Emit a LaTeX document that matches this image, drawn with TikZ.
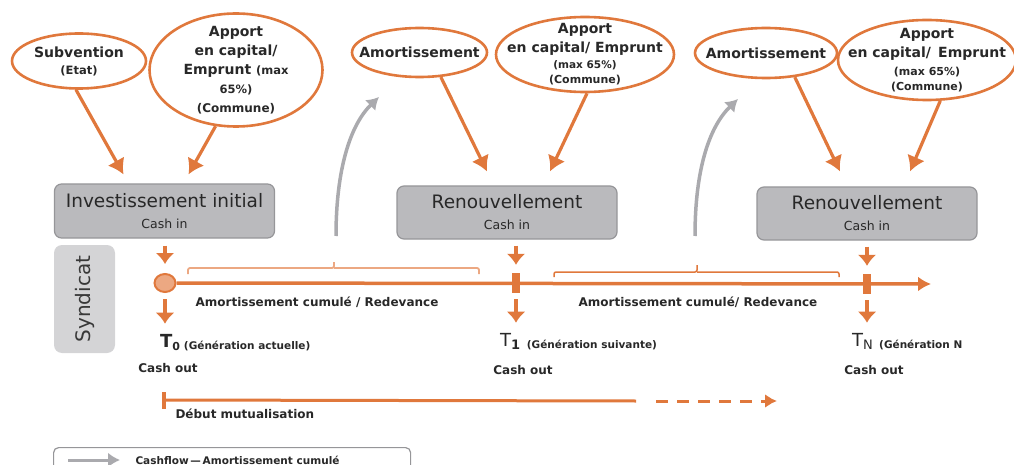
\documentclass[tikz,border=0pt]{standalone}
\usepackage{fontspec}
\setmainfont{DejaVu Sans}
\usetikzlibrary{arrows.meta,positioning,shapes.geometric,calc}
\definecolor{rustorange}{RGB}{224,120,60}
\definecolor{paleorange}{RGB}{236,168,130}
\definecolor{stagegray}{RGB}{186,186,189}
\definecolor{edgegray}{RGB}{150,150,153}
\definecolor{sidegray}{RGB}{212,212,214}
\definecolor{loopgray}{RGB}{170,170,174}
\definecolor{inkgray}{RGB}{40,40,40}

\begin{document}
\begin{tikzpicture}[x=1pt,y=-1pt,
    every node/.style={font=\fontsize{12}{14}\selectfont\bfseries,text=inkgray},
    bubble/.style={ellipse,draw=rustorange,line width=2.6pt,fill=white,align=center,inner xsep=-30pt,inner ysep=-14pt,font=\fontsize{14}{19}\selectfont\bfseries},
    stage/.style={draw=edgegray,line width=1.2pt,fill=stagegray,rounded corners=7pt,minimum width=220pt,minimum height=54pt,align=center,font=\fontsize{18.5}{21}\selectfont\mdseries},
    feed/.style={rustorange,line width=3.2pt,-{Latex[length=15pt,width=19pt]}},
    drop/.style={rustorange,line width=3.5pt,-{Latex[length=11pt,width=19pt]}},
    loopback/.style={loopgray,line width=3.5pt,-{Latex[length=12pt,width=15pt]}},
    brace/.style={line width=1.8pt,rounded corners=2pt},
    tick/.style={fill=rustorange,inner sep=0pt,minimum width=8pt,minimum height=20pt}]
  \useasboundingbox (0,0) rectangle (1014,465);

  % sources
  \node[bubble,minimum width=134pt,minimum height=55pt] (subv) at (79,61)
    {Subvention\\[-2pt]{\fontsize{11.5}{12}\selectfont (Etat)}};
  \node[bubble,minimum width=173pt,minimum height=113pt] (cap0) at (236,70)
    {Apport\\en capital/\\Emprunt {\fontsize{11.5}{12}\selectfont (max}\\{\fontsize{11.5}{12}\selectfont 65\%)}\\{\fontsize{12}{12}\selectfont (Commune)}};
  \node[bubble,minimum width=135pt,minimum height=49pt] (amort1) at (419.5,52.5) {Amortissement};
  \node[bubble,minimum width=178pt,minimum height=75pt] (cap1) at (585,54.5)
    {Apport\\en capital/ Emprunt\\[-3pt]{\fontsize{10.5}{12}\selectfont (max 65\%)}\\[-4pt]{\fontsize{11}{12}\selectfont (Commune)}};
  \node[bubble,minimum width=142pt,minimum height=50pt] (amort2) at (766,53) {Amortissement};
  \node[bubble,minimum width=178pt,minimum height=80pt] (cap2) at (927,60)
    {Apport\\en capital/\, Emprunt\\[-1pt]{\fontsize{11}{12}\selectfont (max 65\%)}\\[-4pt]{\fontsize{11}{12}\selectfont (Commune)}};

  % stages
  \node[stage] (inv) at (164.5,211) {Investissement initial\\{\fontsize{12.5}{14}\selectfont Cash in}};
  \node[stage,minimum height=53pt] (renew1) at (507,212.5) {Renouvellement\\{\fontsize{12.5}{14}\selectfont Cash in}};
  \node[stage,minimum height=53pt] (renew2) at (867,213.5) {Renouvellement\\{\fontsize{12.5}{14}\selectfont Cash in}};

  \coordinate (in0a) at ([xshift=-41pt,yshift=9pt]inv.north);
  \coordinate (in0b) at ([xshift=24pt,yshift=9pt]inv.north);
  \coordinate (in1a) at ([xshift=-20pt,yshift=14pt]renew1.north);
  \coordinate (in1b) at ([xshift=43pt,yshift=14pt]renew1.north);
  \coordinate (in2a) at ([xshift=-27pt,yshift=15pt]renew2.north);
  \coordinate (in2b) at ([xshift=43pt,yshift=15pt]renew2.north);
  \foreach \a/\b in {subv.-96/in0a,cap0.-110/in0b,amort1.-49/in1a,cap1.-87/in1b,amort2.-40/in2a,cap2.-72/in2b}{
    \draw[feed] (\a) -- (\b);
  }

  % amortissement back to the next renewal
  \coordinate (rise1) at (336,236);
  \coordinate (top1) at (379,97);
  \coordinate (rise2) at (695,236);
  \coordinate (top2) at (738,99);
  \draw[loopback] (rise1) .. controls (336,170) and (350,125) .. (top1);
  \draw[loopback] (rise2) .. controls (695,170) and (709,127) .. (top2);

  % syndicat
  \node[fill=sidegray,rounded corners=8pt,minimum width=108pt,minimum height=61pt,rotate=90,
        font=\fontsize{20}{22}\selectfont\mdseries,text=black!78] (synd) at (84.5,299) {Syndicat};

  % time line
  \node[ellipse,draw=rustorange,line width=2pt,fill=paleorange,inner sep=0pt,minimum width=21pt,minimum height=18pt] (t0) at (165,283) {};
  \coordinate (railend) at (931,284);
  \draw[rustorange,line width=3.5pt,-{Latex[length=13pt,width=15pt]}] (t0.east) -- (railend);
  \node[tick] (t1) at (516,283) {};
  \node[tick] (tN) at (867,284) {};

  \draw[brace,paleorange] (188,274) |- (334,268) -- (334,262) (334,268) -| (479,274);
  \draw[brace,rustorange,line width=1.5pt] (554,277) |- (697,272) -- (697,265) (697,272) -| (839,277);
  \node (cum1) at (317,302) {Amortissement cumulé / Redevance};
  \node (cum2) at (698,302) {Amortissement cumulé/ Redevance};

  % generations
  \node[anchor=base west,inner sep=0pt] (lab0) at (160,347)
    {{\fontsize{18}{20}\selectfont T}\raisebox{-3pt}{\fontsize{11}{14}\selectfont 0 }\raisebox{-2pt}{\fontsize{10.5}{12}\selectfont (Génération actuelle)}};
  \node[anchor=base west,inner sep=0pt] (lab1) at (500,346)
    {{\fontsize{18}{20}\selectfont\mdseries T}\raisebox{-3pt}{\fontsize{13}{14}\selectfont 1\, }\raisebox{-2pt}{\fontsize{10.5}{12}\selectfont (Génération suivante)}};
  \node[anchor=base west,inner sep=0pt] (labN) at (852,346)
    {{\fontsize{18}{20}\selectfont\mdseries T}\raisebox{-3pt}{\fontsize{13}{14}\selectfont\mdseries N\, }\raisebox{-2pt}{\fontsize{10.5}{12}\selectfont (Génération N}};
  \node (out0) at (168,368) {Cash out};
  \node (out1) at (523,370) {Cash out};
  \node (outN) at (874,370) {Cash out};

  \draw[drop,shorten <=7pt,shorten >=9pt] (inv.south -| t0.north) -- (t0.north);
  \draw[drop,shorten <=6pt,shorten >=8pt] (renew1.south -| t1.north) -- (t1.north);
  \draw[drop,shorten <=6pt,shorten >=8pt] (renew2.south -| tN.north) -- (tN.north);
  \draw[drop,shorten <=6pt,shorten >=10pt] (t0.south) -- (t0.south |- lab0.north);
  \draw[drop,shorten <=6pt,shorten >=10pt] (t1.south) -- (t1.south |- lab1.north);
  \draw[drop,shorten <=6pt,shorten >=10pt] (tN.south) -- (tN.south |- labN.north);

  % mutualisation
  \node[fill=rustorange,inner sep=0pt,minimum width=3.5pt,minimum height=17pt] (mstart) at (164,400) {};
  \coordinate (mmid) at (636,401);
  \coordinate (mgap) at (656,401);
  \coordinate (mend) at (777,401);
  \draw[rustorange,line width=3pt] (mstart.center) -- (mmid);
  \draw[rustorange,line width=3pt,dash pattern=on 12pt off 9pt,-{Latex[length=12pt,width=14pt]}] (mgap) -- (mend);
  \node[anchor=west] (mutu) at (172,414) {Début mutualisation};

  % legend
  \node[draw=edgegray,line width=1.2pt,rounded corners=5pt,minimum width=357pt,minimum height=48pt,anchor=north west,inner sep=0pt] (legend) at (53,447) {};
  \coordinate (key1) at (68,460);
  \coordinate (key2) at (120,460);
  \draw[loopback,line width=3pt] (key1) -- (key2);
  \node[anchor=west,font=\fontsize{10.5}{12}\selectfont\bfseries] (keytext) at (132,460) {Cashflow\,—\,Amortissement cumulé};
\end{tikzpicture}
\end{document}
